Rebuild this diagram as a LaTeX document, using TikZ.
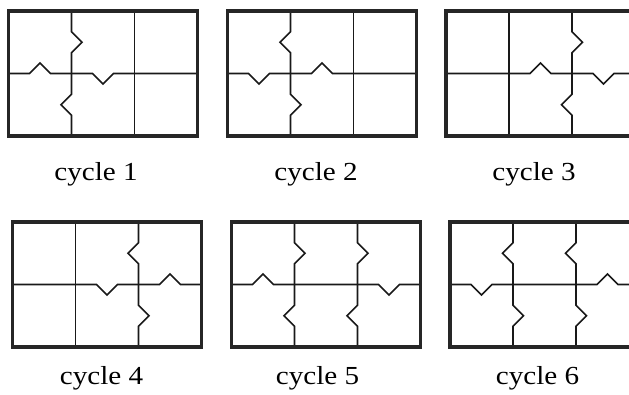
\documentclass[tikz,border=0pt]{standalone}
\usepackage{fontspec}
\newfontfamily\lblfont[FakeStretch=1.12]{Liberation Serif}
\tikzset{
  outer/.style={line width=3.4pt, draw=black!85},
  inner/.style={line width=1.6pt, draw=black!90, line join=miter},
  lbl/.style={font=\lblfont\fontsize{26}{30}\selectfont, anchor=base, inner sep=0pt}
}
% #1 left, #2 top, #3-#5 horizontal bumps (1 up,-1 down,0 none), #6-#9 vertical bumps (1 right,-1 left)
\newcommand\pzPanel[9]{%
  \begin{scope}[shift={(#1,#2)}]
    \draw[inner] (0,62.5) -- (21,62.5) -- (31.5,{62.5-10.5*(#3)}) -- (42,62.5)
      -- (84,62.5) -- (94.5,{62.5-10.5*(#4)}) -- (105,62.5)
      -- (147,62.5) -- (157.5,{62.5-10.5*(#5)}) -- (168,62.5) -- (189,62.5);
    \draw[inner] (63,0) -- (63,20.75) -- ({63+10.5*(#6)},31.25) -- (63,41.75)
      -- (63,83.25) -- ({63+10.5*(#7)},93.75) -- (63,104.25) -- (63,125);
    \draw[inner] (126,0) -- (126,20.75) -- ({126+10.5*(#8)},31.25) -- (126,41.75)
      -- (126,83.25) -- ({126+10.5*(#9)},93.75) -- (126,104.25) -- (126,125);
    \draw[outer] (0,0) rectangle (189,125);
  \end{scope}}
\begin{document}
\begin{tikzpicture}[x=1pt,y=-1pt]
  \useasboundingbox (0,0) rectangle (629,395);
  \clip (0,0) rectangle (629,395);
  % top row
  \pzPanel{8.5}{11}{1}{-1}{0}{1}{-1}{0}{0}
  \pzPanel{227.5}{11}{-1}{1}{0}{-1}{1}{0}{0}
  \pzPanel{446}{11}{0}{1}{-1}{0}{0}{1}{-1}
  % bottom row
  \pzPanel{12.5}{222}{0}{-1}{1}{0}{0}{-1}{1}
  \pzPanel{231.5}{222}{1}{0}{-1}{1}{-1}{1}{-1}
  \pzPanel{450}{222}{-1}{0}{1}{-1}{1}{-1}{1}
  % labels
  \node[lbl] (c1) at (96,180.7) {cycle 1};
  \node[lbl] (c2) at (316,180.7) {cycle 2};
  \node[lbl] (c3) at (534,180.7) {cycle 3};
  \node[lbl] (c4) at (101.5,384) {cycle 4};
  \node[lbl] (c5) at (317.5,384) {cycle 5};
  \node[lbl] (c6) at (537.5,384) {cycle 6};
\end{tikzpicture}
\end{document}
